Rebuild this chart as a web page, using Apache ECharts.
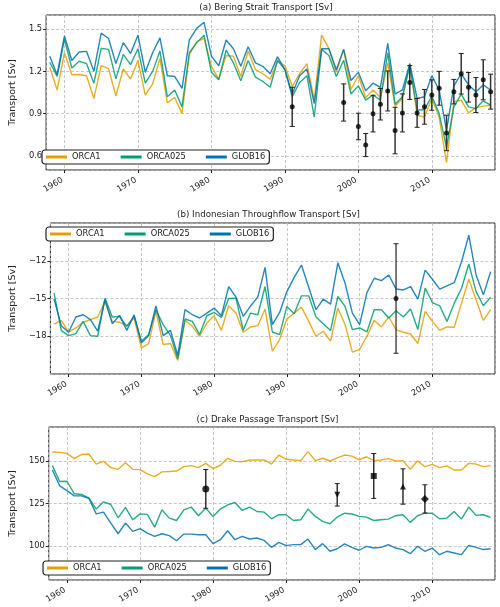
<!DOCTYPE html>
<html><head><meta charset="utf-8">
<script src="https://cdn.jsdelivr.net/npm/echarts@6/dist/echarts.min.js"></script>
<style>html,body{margin:0;padding:0;background:#fff}#c{width:500px;height:607px}</style>
</head><body><div id="c"></div>
<script>
const years = [1958,1959,1960,1961,1962,1963,1964,1965,1966,1967,1968,1969,1970,1971,1972,1973,1974,1975,1976,1977,1978,1979,1980,1981,1982,1983,1984,1985,1986,1987,1988,1989,1990,1991,1992,1993,1994,1995,1996,1997,1998,1999,2000,2001,2002,2003,2004,2005,2006,2007,2008,2009,2010,2011,2012,2013,2014,2015,2016,2017,2018];
const modelNames = ['ORCA1','ORCA025','GLOB16'];

// (a) Bering Strait
const beringORCA1 = [1.229,1.068,1.332,1.176,1.178,1.169,1.008,1.241,1.219,1.025,1.217,1.145,1.277,1.032,1.111,1.291,0.977,1.015,0.900,1.320,1.409,1.435,1.236,1.145,1.313,1.308,1.164,1.344,1.212,1.183,1.145,1.270,1.241,1.092,1.183,1.255,0.996,1.457,1.361,1.193,1.356,1.073,1.169,1.015,1.068,1.015,1.260,0.953,1.008,1.255,0.888,0.876,1.008,0.876,0.552,0.984,0.996,0.905,0.943,0.953,0.960];
const beringORCA025 = [1.265,1.164,1.428,1.224,1.272,1.255,1.116,1.363,1.356,1.147,1.320,1.248,1.361,1.116,1.200,1.344,1.020,1.068,0.948,1.332,1.404,1.457,1.193,1.140,1.351,1.260,1.133,1.277,1.159,1.128,1.087,1.279,1.212,1.020,1.121,1.169,0.876,1.356,1.313,1.164,1.279,1.039,1.097,0.996,1.032,0.996,1.332,0.967,1.020,1.241,0.924,0.929,1.025,0.900,0.660,0.948,1.039,0.948,0.936,0.991,0.960];
const beringGLOB16 = [1.308,1.176,1.452,1.277,1.337,1.342,1.200,1.471,1.433,1.255,1.404,1.327,1.457,1.193,1.332,1.438,1.169,1.164,1.080,1.423,1.505,1.548,1.308,1.240,1.423,1.360,1.236,1.375,1.260,1.236,1.183,1.303,1.212,1.039,1.169,1.217,0.972,1.361,1.361,1.212,1.356,1.135,1.193,1.063,1.116,1.087,1.399,1.039,1.068,1.255,1.008,1.020,1.169,1.068,0.780,1.097,1.183,1.104,1.056,1.104,1.068];
const beringObsYears = [1991,1998,2000,2001,2002,2003,2004,2005,2006,2007,2008,2009,2010,2011,2012,2013,2014,2015,2016,2017,2018];
const beringObs = [0.948,0.979,0.809,0.677,0.900,0.967,1.061,0.780,0.905,1.121,0.905,0.948,1.032,1.080,0.763,1.056,1.183,1.087,1.032,1.140,1.056];
const beringObsErr = [0.139,0.132,0.094,0.082,0.130,0.112,0.142,0.165,0.135,0.120,0.102,0.123,0.108,0.120,0.126,0.087,0.144,0.105,0.124,0.142,0.124];

// (b) Indonesian Throughflow
const itfORCA1 = [-17.03,-16.74,-17.68,-17.34,-16.89,-16.68,-16.47,-15.24,-16.82,-16.89,-17.16,-16.55,-18.92,-18.58,-16.03,-18.66,-18.58,-19.92,-16.74,-17.21,-18.00,-16.95,-16.37,-17.53,-15.58,-16.16,-17.68,-17.26,-17.16,-15.84,-19.18,-18.26,-16.63,-16.16,-15.68,-16.82,-18.00,-17.60,-18.39,-15.76,-17.08,-19.26,-19.05,-18.00,-16.74,-17.26,-16.47,-17.47,-17.68,-17.82,-18.58,-16.03,-16.82,-17.53,-17.26,-17.29,-15.37,-13.47,-15.10,-16.74,-15.89];
const itfORCA025 = [-14.58,-17.55,-17.95,-17.79,-16.82,-17.95,-18.00,-14.97,-16.47,-16.42,-17.21,-16.42,-18.39,-17.87,-15.89,-17.08,-17.95,-19.79,-16.63,-16.82,-17.87,-16.37,-16.11,-16.50,-15.00,-14.97,-17.53,-16.16,-16.29,-14.05,-17.66,-17.87,-15.63,-16.21,-14.79,-14.79,-16.47,-17.00,-17.55,-14.84,-15.63,-17.47,-17.34,-17.66,-15.89,-15.89,-16.55,-15.97,-16.47,-15.84,-17.47,-14.18,-15.32,-15.58,-16.82,-15.37,-14.18,-12.26,-14.45,-15.58,-14.89];
const itfGLOB16 = [-15.05,-17.16,-17.68,-16.47,-16.29,-16.68,-17.60,-15.10,-17.00,-16.34,-17.53,-16.29,-18.53,-17.95,-15.58,-17.95,-17.53,-19.53,-15.89,-16.29,-16.55,-16.16,-15.76,-16.37,-14.05,-14.89,-16.42,-15.60,-14.89,-12.53,-17.08,-16.11,-14.45,-13.32,-12.34,-14.11,-15.89,-15.05,-15.45,-12.16,-13.79,-16.16,-17.08,-14.53,-13.39,-13.58,-13.13,-14.24,-14.32,-14.05,-15.05,-12.74,-13.47,-14.26,-14.00,-13.74,-12.08,-9.97,-13.13,-14.71,-12.87];
const itfObsYears = [2005];
const itfObs = [-15.0];
const itfObsErr = [4.35];

// (c) Drake Passage
const dpORCA1 = [155.3,155.1,154.5,151.4,153.9,154.1,148.2,149.8,146.1,145.1,149.0,145.1,144.9,142.4,140.8,143.6,143.8,144.1,146.7,147.3,146.1,148.6,145.5,147.5,151.6,149.8,149.6,150.6,150.6,150.6,148.2,153.5,151.0,150.6,150.2,155.5,150.2,151.6,150.0,151.8,153.5,152.9,150.6,152.5,150.2,150.6,151.4,150.0,150.2,145.1,150.0,146.7,148.0,146.1,147.1,144.7,144.7,148.6,148.2,146.7,147.3];
const dpORCA025 = [147.3,137.9,138.1,130.7,130.3,128.1,121.7,126.0,124.4,116.6,122.7,115.4,118.9,118.6,111.1,121.3,116.4,115.0,121.3,122.9,117.8,122.3,117.4,121.7,124.2,125.6,120.9,122.9,120.3,119.9,116.0,118.4,118.4,115.0,115.4,121.7,117.4,114.5,113.1,117.0,119.3,118.8,117.4,117.0,115.0,115.4,115.8,117.8,118.4,113.9,117.8,119.3,119.3,116.0,116.4,120.3,115.8,122.9,118.0,118.4,116.8];
const dpGLOB16 = [144.7,135.4,132.6,129.5,129.5,128.1,118.9,119.9,113.5,107.2,113.5,108.6,110.2,107.6,105.7,107.2,106.1,103.1,107.0,107.0,106.6,106.6,101.4,103.7,109.0,103.7,105.7,104.1,104.7,103.3,99.2,102.1,100.2,100.8,100.8,104.1,97.9,101.4,96.9,98.4,101.2,99.2,97.5,99.8,98.8,99.2,100.8,98.8,97.9,95.5,99.8,96.9,98.8,94.9,96.9,95.9,94.9,100.4,99.2,97.9,98.4];
const dpObsYears = [1979,1997,2002,2006,2009];
const dpObs = [133.6,130.1,141.2,135.0,127.7];
const dpObsErr = [11.4,6.6,13.2,10.4,8.3];

const titles = ['(a) Bering Strait Transport [Sv]','(b) Indonesian Throughflow Transport [Sv]','(c) Drake Passage Transport [Sv]'];
const yTitle = 'Transport [Sv]';

// ---- styling / layout ----
const FONT = 'DejaVu Sans';
const TXT = '#222';
const colors = ['#E69F00','#009E73','#0072B2'];
const dpSymbols = [
  {symbol:'circle', rot:0, size:7},
  {symbol:'triangle', rot:180, size:6},
  {symbol:'rect', rot:0, size:6},
  {symbol:'triangle', rot:0, size:6},
  {symbol:'diamond', rot:0, size:8}
];
const grids = [
  {left:37, top:15, width:458, height:155, show:true, borderColor:'#222', borderWidth:1, backgroundColor:'transparent'},
  {left:42, top:223, width:453, height:151, show:true, borderColor:'#222', borderWidth:1, backgroundColor:'transparent'},
  {left:40, top:427, width:455, height:153, show:true, borderColor:'#222', borderWidth:1, backgroundColor:'transparent'}
];
const yCfg = [
  {min:0.5, max:1.6, minInterval:0.3, maxInterval:0.3, gap:24},
  {min:-21, max:-9, interval:3, gap:29},
  {min:80, max:170, minInterval:25, maxInterval:25, gap:27}
];
const legendPos = [{left:42, top:150},{left:46, top:227},{left:43, top:561}];
const titleY = [8, 215, 420];

const splitStyle = {type:[3,2], color:'#b8b8b8', width:0.8};
const xAxes = grids.map((g,i)=>({
  type:'value', gridIndex:i, min:1957.5, max:2018.6, minInterval:10, maxInterval:10,
  axisLine:{show:false},
  axisTick:{show:true, length:3, lineStyle:{color:'#222', width:1}},
  axisLabel:{rotate:30, align:'right', verticalAlign:'bottom', fontFamily:FONT, fontSize:8.3, color:TXT, margin:13,
    showMinLabel:false, showMaxLabel:false, formatter:v=>String(Math.round(v))},
  splitLine:{show:true, lineStyle:splitStyle}
}));
const yAxes = yCfg.map((c,i)=>{
  const o = {
    type:'value', gridIndex:i, min:c.min, max:c.max,
    name:yTitle, nameLocation:'middle', nameGap:c.gap, nameRotate:90,
    nameTextStyle:{fontFamily:FONT, fontSize:9.5, color:TXT},
    axisLine:{show:false},
    axisTick:{show:true, length:3, lineStyle:{color:'#222', width:1}},
    axisLabel:{fontFamily:FONT, fontSize:8.3, color:TXT, margin:4, showMinLabel:false, showMaxLabel:false,
      formatter:v=>String(v).replace('-', '\u2212')},
    splitLine:{show:true, lineStyle:splitStyle}
  };
  if (c.interval) o.interval = c.interval;
  if (c.minInterval) { o.minInterval = c.minInterval; o.maxInterval = c.maxInterval; }
  return o;
});

const modelData = [
  [beringORCA1, beringORCA025, beringGLOB16],
  [itfORCA1, itfORCA025, itfGLOB16],
  [dpORCA1, dpORCA025, dpGLOB16]
];
const obsSets = [
  {y:beringObsYears, v:beringObs, e:beringObsErr, width:1.5, cap:2.5},
  {y:itfObsYears, v:itfObs, e:itfObsErr, width:1.3, cap:2.5},
  {y:dpObsYears, v:dpObs, e:dpObsErr, width:1.5, cap:2.5}
];

const series = [];
modelData.forEach((set, gi)=>{
  set.forEach((arr, k)=>{
    series.push({
      type:'line', name:modelNames[k], xAxisIndex:gi, yAxisIndex:gi,
      data: years.map((yr,j)=>[yr, arr[j]]),
      showSymbol:false, symbol:'none', silent:true, animation:false,
      lineStyle:{color:colors[k], width:1.4, opacity:0.85},
      itemStyle:{color:colors[k]}, z:2+k
    });
  });
  const ob = obsSets[gi];
  series.push({
    type:'custom', xAxisIndex:gi, yAxisIndex:gi, silent:true, animation:false, z:6,
    data: ob.y.map((yr,j)=>[yr, ob.v[j]-ob.e[j], ob.v[j]+ob.e[j]]),
    encode:{x:0, y:[1,2]},
    renderItem:(params, api)=>{
      const x = api.value(0);
      const p1 = api.coord([x, api.value(1)]);
      const p2 = api.coord([x, api.value(2)]);
      const st = {stroke:'#333', lineWidth:ob.width};
      return {type:'group', children:[
        {type:'line', shape:{x1:p1[0], y1:p1[1], x2:p2[0], y2:p2[1]}, style:st},
        {type:'line', shape:{x1:p1[0]-ob.cap, y1:p1[1], x2:p1[0]+ob.cap, y2:p1[1]}, style:{stroke:'#222', lineWidth:1}},
        {type:'line', shape:{x1:p2[0]-ob.cap, y1:p2[1], x2:p2[0]+ob.cap, y2:p2[1]}, style:{stroke:'#222', lineWidth:1}}
      ]};
    }
  });
  series.push({
    type:'scatter', xAxisIndex:gi, yAxisIndex:gi, silent:true, animation:false, z:7,
    data: ob.y.map((yr,j)=>{
      if (gi===2) {
        const s = dpSymbols[j];
        return {value:[yr, ob.v[j]], symbol:s.symbol, symbolRotate:s.rot, symbolSize:s.size};
      }
      return {value:[yr, ob.v[j]], symbol:'circle', symbolSize:5};
    }),
    itemStyle:{color:'#000'}
  });
});

const legends = legendPos.map(p=>({
  data:modelNames, left:p.left, top:p.top, orient:'horizontal',
  icon:'rect', itemWidth:21, itemHeight:3, itemGap:20,
  padding:[3,4,3,4], borderColor:'#222', borderWidth:1.2, borderRadius:3, backgroundColor:'#fff',
  textStyle:{fontFamily:FONT, fontSize:8.3, color:TXT},
  selectedMode:false
}));

const graphics = titles.map((t,i)=>({
  type:'text', x: grids[i].left + grids[i].width/2, y: titleY[i],
  style:{text:t, fontFamily:FONT, fontSize:8.7, fill:TXT, textAlign:'center', textVerticalAlign:'middle'}
}));

const chart = echarts.init(document.getElementById('c'), null, {renderer:'canvas'});
chart.setOption({
  animation:false,
  backgroundColor:'#fff',
  grid:grids, xAxis:xAxes, yAxis:yAxes,
  legend:legends, series:series, graphic:graphics,
  textStyle:{fontFamily:FONT}
});
</script></body></html>
